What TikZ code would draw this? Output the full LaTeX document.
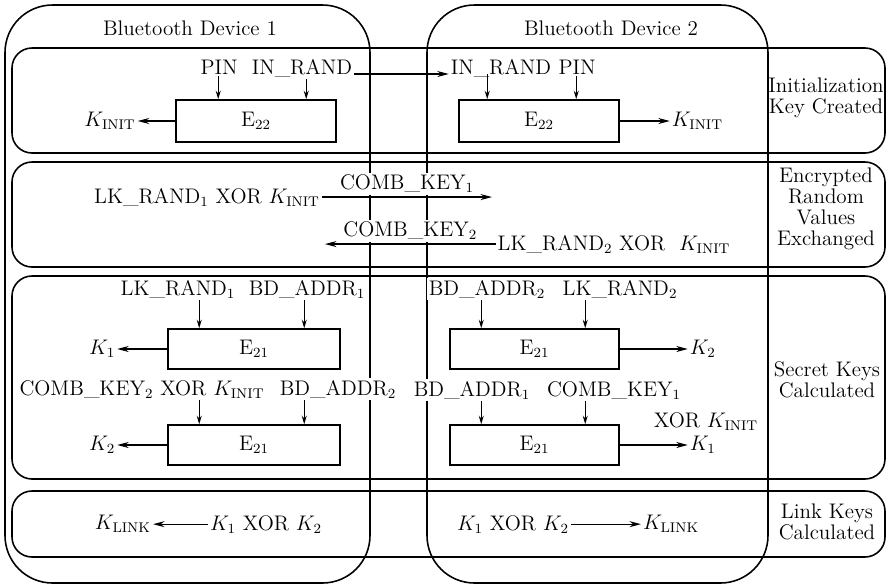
\documentclass[tikz,border=0pt]{standalone}
\usepackage{tikz}
\usetikzlibrary{arrows.meta,positioning,calc}

\begin{document}
\begin{tikzpicture}[
    x=0.02cm, y=-0.02cm,
    every node/.style={font=\fontsize{12}{14}\selectfont, inner sep=1pt},
    device/.style={draw, line width=0.9pt, rounded corners=0.95cm},
    phase/.style={draw, line width=0.9pt, rounded corners=0.4cm},
    func/.style={draw, fill=white, line width=0.9pt,
                 minimum width=#1, minimum height=0.8cm},
    func/.default=3.44cm,
    lbl/.style={fill=white},
    side/.style={align=center, font=\fontsize{12}{12}\selectfont},
    arr/.style={-{Stealth[length=2.3mm,width=1.2mm]}, line width=0.7pt},
    inarr/.style={-{Stealth[length=1.7mm,width=1mm]}, line width=0.7pt},
]
\useasboundingbox (0,0) rectangle (890,586);

% ── Device frames ──
\draw[device] (5,5) rectangle (370,583);
\draw[device] (427,5) rectangle (768,583);
\node[anchor=base] (dev1) at (190,35) {Bluetooth Device 1};
\node[anchor=base] (dev2) at (611,35) {Bluetooth Device 2};

% ── Phase bands ──
\draw[phase] (12,48) rectangle (885,153);
\draw[phase] (12,162) rectangle (885,267);
\draw[phase] (12,276) rectangle (885,479);
\draw[phase] (12,491) rectangle (885,557);

% ── Phase labels ──
\node[side] (initlbl) at (826,98) {Initialization\\Key Created};
\node[side] (exchlbl) at (826,209) {Encrypted\\Random\\Values\\Exchanged};
\node[side] (secrlbl) at (827,380) {Secret Keys\\Calculated};
\node[side] (linklbl) at (827,522) {Link Keys\\Calculated};

% ── Initialization key ──
\node[func=3.2cm, minimum height=0.84cm] (e22a) at (256,121) {E$_{22}$};
\node[func=3.2cm, minimum height=0.84cm] (e22b) at (539,121) {E$_{22}$};
\node[lbl, anchor=base] (pinA) at (219,74) {PIN};
\node[lbl, anchor=base] (inrandA) at (302,74) {IN\_RAND};
\node[lbl, anchor=base] (inrandB) at (501,74) {IN\_RAND};
\node[lbl, anchor=base] (pinB) at (577,74) {PIN};
\node[left=0.75cm of e22a] (kinitA) {$K_{\mathrm{INIT}}$};
\node[right=1cm of e22b] (kinitB) {$K_{\mathrm{INIT}}$};

\coordinate (e22a-in1) at ($(e22a.north west)+(43,0)$);
\coordinate (e22a-in2) at ($(e22a.north west)+(131,0)$);
\coordinate (e22b-in1) at ($(e22b.north west)+(29,0)$);
\coordinate (e22b-in2) at ($(e22b.north west)+(118,0)$);

\draw[inarr] (e22a-in1 |- pinA.south) -- (e22a-in1);
\draw[inarr] (e22a-in2 |- inrandA.south) -- (e22a-in2);
\draw[inarr] (e22b-in1 |- inrandB.base) -- (e22b-in1);
\draw[inarr] (e22b-in2 |- pinB.south) -- (e22b-in2);
\draw[arr] (inrandA.base east) -- (inrandB.base west);
\draw[arr] (e22a) -- (kinitA);
\draw[arr] (e22b) -- (kinitB);

% ── Encrypted random values ──
\node[anchor=base] (lkxA) at (207,203) {LK\_RAND$_1$ XOR $K_{\mathrm{INIT}}$};
\node[anchor=base] (lkxB) at (614,250) {LK\_RAND$_2$ XOR\ \ $K_{\mathrm{INIT}}$};
\coordinate (ck1end) at (492,200);
\coordinate (ck2end) at (325,248);
\draw[arr] (lkxA.east) -- node[lbl, above=1pt] (ck1) {COMB\_KEY$_1$} (lkxA.east -| ck1end);
\draw[arr] (lkxB.west) -- node[lbl, above=1pt] (ck2) {COMB\_KEY$_2$} (lkxB.west -| ck2end);

% ── Secret keys ──
\node[func] (e21a) at (254,349) {E$_{21}$};
\node[func] (e21b) at (254,445) {E$_{21}$};
\node[func=3.38cm] (e21c) at (534.5,349) {E$_{21}$};
\node[func=3.38cm] (e21d) at (534.5,445) {E$_{21}$};

\node[anchor=base] (lkA) at (178,295) {LK\_RAND$_1$};
\node[lbl, anchor=base] (bdA) at (307,295) {BD\_ADDR$_1$};
\node[anchor=base] (cxA) at (142,395) {COMB\_KEY$_2$ XOR $K_{\mathrm{INIT}}$};
\node[lbl, anchor=base] (bd2A) at (338,395) {BD\_ADDR$_2$};
\node[lbl, anchor=base] (bd2B) at (487,295) {BD\_ADDR$_2$};
\node[anchor=base] (lkB) at (620,295) {LK\_RAND$_2$};
\node[lbl, anchor=base] (bd1B) at (472,396) {BD\_ADDR$_1$};
\node[anchor=base] (ckB) at (614,396) {COMB\_KEY$_1$};
\node[anchor=base] (xorB) at (706,427) {XOR $K_{\mathrm{INIT}}$};

\node[left=1cm of e21a] (k1A) {$K_1$};
\node[left=1cm of e21b] (k2A) {$K_2$};
\node[right=1.36cm of e21c] (k2B) {$K_2$};
\node[right=1.36cm of e21d] (k1B) {$K_1$};

\coordinate (e21a-in1) at ($(e21a.north west)+(32,0)$);
\coordinate (e21a-in2) at ($(e21a.north west)+(137,0)$);
\coordinate (e21b-in1) at ($(e21b.north west)+(32,0)$);
\coordinate (e21b-in2) at ($(e21b.north west)+(137,0)$);
\coordinate (e21c-in1) at ($(e21c.north west)+(32,0)$);
\coordinate (e21c-in2) at ($(e21c.north west)+(136,0)$);
\coordinate (e21d-in1) at ($(e21d.north west)+(32,0)$);
\coordinate (e21d-in2) at ($(e21d.north west)+(136,0)$);

\draw[inarr] (e21a-in1 |- lkA.south) -- (e21a-in1);
\draw[inarr] (e21a-in2 |- bdA.south) -- (e21a-in2);
\draw[inarr] (e21b-in1 |- cxA.south) -- (e21b-in1);
\draw[inarr] (e21b-in2 |- bd2A.south) -- (e21b-in2);
\draw[inarr] (e21c-in1 |- bd2B.south) -- (e21c-in1);
\draw[inarr] (e21c-in2 |- lkB.south) -- (e21c-in2);
\draw[inarr] (e21d-in1 |- bd1B.south) -- (e21d-in1);
\draw[inarr] (e21d-in2 |- ckB.south) -- (e21d-in2);

\draw[arr] (e21a) -- (k1A);
\draw[arr] (e21b) -- (k2A);
\draw[arr] (e21c) -- (k2B);
\draw[arr] (e21d) -- (k1B);

% ── Link keys ──
\node[anchor=base] (xkA) at (266,530) {$K_1$ XOR $K_2$};
\node[left=1.1cm of xkA] (klA) {$K_{\mathrm{LINK}}$};
\node[anchor=base] (xkB) at (513,530) {$K_1$ XOR $K_2$};
\node[right=1.4cm of xkB] (klB) {$K_{\mathrm{LINK}}$};
\draw[arr] (xkA) -- (klA);
\draw[arr] (xkB) -- (klB);

\end{tikzpicture}
\end{document}
